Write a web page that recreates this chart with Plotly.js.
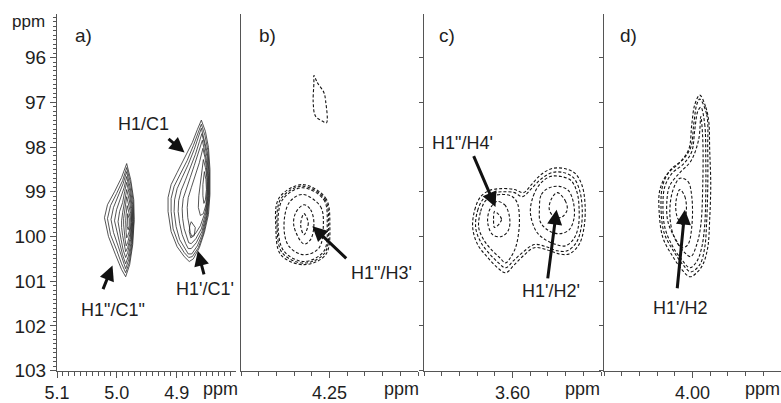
<!DOCTYPE html>
<html>
<head>
<meta charset="utf-8">
<script src="https://cdn.plot.ly/plotly-3.0.1.min.js"></script>
<style>html,body{margin:0;padding:0;background:#fff;}#chart{width:781px;height:403px;}</style>
</head>
<body>
<div id="chart"></div>
<script>
// ---------- axis / tick data ----------
const yTickStart = 96, yTickStep = 1, yMinorStep = 0.1;
const xTickStart = [5.1, 4.25, 3.60, 4.00];   // first labelled tick of each panel
const xTickStep = 0.1;
const xMinorStep = 0.01;
const xTickFormat = ['.1f', '.2f', '.2f', '.2f'];
const panelLetters = ['a)', 'b)', 'c)', 'd)'];

// ---------- contour lines (ppm H, ppm C) ----------
// panel a: solid contours, H1"/C1" (left) and H1/C1 + H1'/C1' (right)
const contoursA = [
  [[4.9836,98.37],[4.9769,98.73],[4.9718,99.18],[4.9710,99.62],[4.9735,100.18],[4.9786,100.63],[4.9853,100.90],[4.9921,100.74],[5.0022,100.41],[5.0140,100.00],[5.0207,99.58],[5.0157,99.29],[5.0039,99.00],[4.9921,98.68]],
  [[4.9836,98.46],[4.9769,98.82],[4.9727,99.22],[4.9718,99.67],[4.9744,100.18],[4.9794,100.59],[4.9853,100.81],[4.9921,100.61],[5.0005,100.30],[5.0106,99.96],[5.0157,99.60],[5.0106,99.31],[5.0005,99.04],[4.9904,98.75]],
  [[4.9836,98.55],[4.9777,98.91],[4.9735,99.29],[4.9727,99.67],[4.9752,100.16],[4.9803,100.52],[4.9853,100.72],[4.9912,100.50],[4.9980,100.21],[5.0056,99.91],[5.0098,99.62],[5.0056,99.35],[4.9971,99.09],[4.9895,98.82]],
  [[4.9836,98.66],[4.9786,98.97],[4.9744,99.33],[4.9735,99.67],[4.9760,100.12],[4.9811,100.45],[4.9853,100.61],[4.9904,100.41],[4.9954,100.14],[5.0005,99.87],[5.0039,99.65],[5.0005,99.40],[4.9938,99.15],[4.9879,98.91]],
  [[4.9836,98.79],[4.9786,99.09],[4.9752,99.38],[4.9744,99.69],[4.9769,100.07],[4.9820,100.36],[4.9853,100.47],[4.9895,100.30],[4.9929,100.07],[4.9963,99.85],[4.9980,99.67],[4.9954,99.44],[4.9904,99.24],[4.9870,99.00]],
  [[4.9836,98.95],[4.9794,99.18],[4.9760,99.44],[4.9752,99.69],[4.9777,100.03],[4.9820,100.25],[4.9853,100.34],[4.9879,100.18],[4.9904,99.98],[4.9921,99.80],[4.9921,99.65],[4.9904,99.47],[4.9879,99.29],[4.9853,99.11]],
  [[4.9836,99.11],[4.9803,99.29],[4.9769,99.49],[4.9760,99.69],[4.9786,99.96],[4.9820,100.14],[4.9845,100.21],[4.9862,100.07],[4.9879,99.89],[4.9887,99.74],[4.9887,99.60],[4.9870,99.44],[4.9853,99.29]],
  [[4.9828,99.31],[4.9803,99.44],[4.9777,99.58],[4.9777,99.74],[4.9794,99.89],[4.9820,100.00],[4.9836,100.03],[4.9845,99.91],[4.9853,99.78],[4.9853,99.65],[4.9845,99.49]],
  [[4.9820,99.49],[4.9794,99.60],[4.9794,99.76],[4.9811,99.85],[4.9828,99.78],[4.9828,99.62]],
  [[4.8589,97.40],[4.8521,97.65],[4.8470,98.01],[4.8445,98.50],[4.8445,99.06],[4.8470,99.51],[4.8538,99.91],[4.8622,100.25],[4.8723,100.50],[4.8791,100.56],[4.8875,100.45],[4.8993,100.23],[4.9094,99.89],[4.9145,99.44],[4.9145,99.13],[4.9094,98.84],[4.8993,98.57],[4.8858,98.23],[4.8740,97.90],[4.8656,97.61]],
  [[4.8589,97.49],[4.8529,97.74],[4.8479,98.08],[4.8454,98.55],[4.8454,99.09],[4.8487,99.53],[4.8555,99.94],[4.8639,100.25],[4.8740,100.45],[4.8800,100.47],[4.8875,100.36],[4.8976,100.14],[4.9061,99.83],[4.9094,99.44],[4.9094,99.15],[4.9044,98.88],[4.8943,98.61],[4.8825,98.30],[4.8723,97.97],[4.8639,97.67]],
  [[4.8589,97.58],[4.8538,97.83],[4.8487,98.14],[4.8462,98.59],[4.8462,99.09],[4.8496,99.53],[4.8572,99.94],[4.8656,100.21],[4.8749,100.39],[4.8808,100.39],[4.8867,100.27],[4.8951,100.07],[4.9010,99.78],[4.9044,99.44],[4.9036,99.18],[4.8993,98.93],[4.8909,98.68],[4.8808,98.39],[4.8707,98.05],[4.8631,97.76]],
  [[4.8580,97.70],[4.8538,97.92],[4.8496,98.21],[4.8470,98.64],[4.8470,99.09],[4.8504,99.51],[4.8580,99.89],[4.8673,100.14],[4.8757,100.27],[4.8808,100.27],[4.8850,100.16],[4.8909,99.96],[4.8951,99.71],[4.8976,99.44],[4.8968,99.20],[4.8926,98.97],[4.8858,98.75],[4.8774,98.48],[4.8690,98.17],[4.8622,97.88]],
  [[4.8572,97.85],[4.8538,98.05],[4.8504,98.30],[4.8479,98.68],[4.8479,99.09],[4.8512,99.47],[4.8589,99.83],[4.8681,100.05],[4.8757,100.16],[4.8800,100.14],[4.8833,100.00],[4.8875,99.83],[4.8901,99.60],[4.8909,99.38],[4.8892,99.15],[4.8841,98.93],[4.8774,98.68],[4.8707,98.41],[4.8639,98.12]],
  [[4.8563,98.03],[4.8529,98.23],[4.8504,98.46],[4.8487,98.77],[4.8487,99.11],[4.8521,99.44],[4.8605,99.76],[4.8690,99.94],[4.8749,100.00],[4.8774,99.91],[4.8791,99.76],[4.8816,99.58],[4.8825,99.35],[4.8808,99.13],[4.8757,98.91],[4.8690,98.64],[4.8622,98.35]],
  [[4.8555,98.28],[4.8521,98.46],[4.8496,98.68],[4.8496,99.00],[4.8512,99.29],[4.8555,99.49],[4.8605,99.53],[4.8639,99.35],[4.8631,99.09],[4.8605,98.79],[4.8580,98.50]],
  [[4.8538,98.55],[4.8512,98.73],[4.8504,98.95],[4.8521,99.18],[4.8546,99.26],[4.8563,99.09],[4.8563,98.84]],
  [[4.8757,99.67],[4.8690,99.80],[4.8707,99.98],[4.8766,100.03],[4.8791,99.89],[4.8782,99.76]]
];
// panel b: dashed contours, H1"/H3'
const contoursB = [
  [[4.2588,96.40],[4.2569,96.56],[4.2532,96.78],[4.2522,96.97],[4.2517,97.46],[4.2541,97.42],[4.2579,97.31],[4.2592,97.01],[4.2588,96.56]],
  [[4.2644,99.49],[4.2620,99.70],[4.2644,99.96],[4.2663,99.74]],
  [[4.2644,99.29],[4.2607,99.40],[4.2588,99.70],[4.2607,100.07],[4.2644,100.17],[4.2701,99.77],[4.2691,99.47]],
  [[4.2653,99.06],[4.2551,99.33],[4.2535,99.77],[4.2560,100.26],[4.2644,100.41],[4.2729,100.22],[4.2757,99.81],[4.2729,99.25]],
  [[4.2653,98.91],[4.2532,99.18],[4.2513,99.74],[4.2532,100.33],[4.2644,100.56],[4.2757,100.33],[4.2790,99.81],[4.2766,99.18]],
  [[4.2653,98.875],[4.2527,99.16],[4.2505,99.74],[4.2527,100.37],[4.2644,100.595],[4.2766,100.37],[4.2796,99.81],[4.2775,99.16]],
  [[4.2653,98.84],[4.2522,99.14],[4.2498,99.74],[4.2522,100.41],[4.2644,100.63],[4.2775,100.41],[4.2803,99.81],[4.2785,99.14]]
];
// panel c: dashed contours, H1"/H4' (left) and H1'/H2' (right)
const contoursC = [
  [[3.6101,99.44],[3.6062,99.62],[3.6101,99.80],[3.6107,99.62]],
  [[3.6090,99.22],[3.6045,99.29],[3.6017,99.56],[3.6022,99.85],[3.6062,100.00],[3.6112,99.96],[3.6140,99.69],[3.6129,99.40]],
  [[3.6191,99.80],[3.6180,99.44],[3.6152,99.20],[3.6107,99.09],[3.6051,99.06],[3.6000,99.11],[3.5972,99.26],[3.5961,99.58],[3.5966,99.94],[3.5983,100.25],[3.6011,100.47],[3.6039,100.59],[3.6073,100.47],[3.6118,100.30],[3.6163,100.07]],
  [[3.6208,99.80],[3.6197,99.42],[3.6163,99.15],[3.6118,99.04],[3.6056,99.00],[3.5989,99.02],[3.5944,99.11],[3.5893,98.93],[3.5837,98.71],[3.5775,98.57],[3.5713,98.57],[3.5657,98.68],[3.5624,98.93],[3.5607,99.31],[3.5612,99.80],[3.5640,100.14],[3.5691,100.32],[3.5747,100.32],[3.5809,100.23],[3.5876,100.18],[3.5938,100.34],[3.5994,100.54],[3.6039,100.70],[3.6079,100.59],[3.6129,100.39],[3.6180,100.12]],
  [[3.6225,99.80],[3.6213,99.40],[3.6180,99.11],[3.6129,98.97],[3.6062,98.93],[3.5989,98.95],[3.5938,99.02],[3.5893,98.84],[3.5837,98.61],[3.5775,98.48],[3.5708,98.48],[3.5646,98.59],[3.5607,98.86],[3.5590,99.29],[3.5596,99.80],[3.5624,100.18],[3.5680,100.39],[3.5736,100.39],[3.5803,100.30],[3.5876,100.25],[3.5933,100.41],[3.5989,100.63],[3.6039,100.81],[3.6084,100.70],[3.6140,100.47],[3.6197,100.18]],
  [[3.5899,99.47],[3.5882,99.09],[3.5843,98.82],[3.5787,98.66],[3.5725,98.66],[3.5669,98.75],[3.5635,99.02],[3.5624,99.35],[3.5629,99.80],[3.5657,100.07],[3.5702,100.21],[3.5753,100.18],[3.5815,100.07],[3.5865,99.89]],
  [[3.5848,99.40],[3.5837,99.06],[3.5792,98.91],[3.5736,98.88],[3.5685,98.97],[3.5657,99.22],[3.5652,99.58],[3.5680,99.85],[3.5736,99.94],[3.5803,99.85],[3.5843,99.67]],
  [[3.5747,99.02],[3.5702,99.20],[3.5691,99.40],[3.5719,99.56],[3.5758,99.58],[3.5792,99.40],[3.5781,99.17]]
];
// panel d: dashed contours, H1'/H2
const contoursD = [
  [[4.0071,98.95],[4.0043,99.11],[4.0035,99.44],[4.0054,99.74],[4.0085,99.58],[4.0094,99.24]],
  [[4.0071,98.70],[4.0026,98.77],[4.0004,99.11],[4.0004,99.78],[4.0026,100.18],[4.0060,100.25],[4.0105,100.00],[4.0128,99.49],[4.0111,98.97]],
  [[3.9953,97.32],[3.9942,97.83],[3.9942,98.84],[3.9953,99.74],[3.9976,100.18],[4.0010,100.45],[4.0049,100.34],[4.0094,100.07],[4.0139,99.67],[4.0144,99.17],[4.0128,98.86],[4.0071,98.57],[4.0010,98.32],[3.9965,97.83]],
  [[3.9953,97.11],[3.9931,97.49],[3.9925,98.28],[3.9925,99.06],[3.9931,99.74],[3.9948,100.25],[3.9976,100.56],[4.0015,100.70],[4.0060,100.52],[4.0111,100.23],[4.0156,99.80],[4.0167,99.29],[4.0156,98.88],[4.0116,98.59],[4.0049,98.37],[4.0004,98.10],[3.9987,97.61],[3.9970,97.20]],
  [[3.9959,96.93],[3.9920,97.27],[3.9914,98.05],[3.9914,98.95],[3.9920,99.67],[3.9931,100.25],[3.9959,100.63],[4.0010,100.79],[4.0054,100.63],[4.0105,100.34],[4.0161,99.91],[4.0178,99.29],[4.0167,98.84],[4.0122,98.50],[4.0054,98.28],[4.0010,98.01],[3.9993,97.49],[3.9976,97.05]],
  [[3.9959,96.84],[3.9925,97.11],[3.9908,97.43],[3.9903,98.05],[3.9897,98.84],[3.9903,99.62],[3.9914,100.25],[3.9942,100.63],[3.9976,100.81],[4.0015,100.90],[4.0060,100.74],[4.0111,100.45],[4.0167,100.03],[4.0189,99.40],[4.0184,98.95],[4.0144,98.61],[4.0071,98.34],[4.0021,98.05],[4.0004,97.49],[3.9987,97.05]]
];

// ---------- peak labels and arrows ----------
const noteText  = ['H1/C1', "H1'/C1'", 'H1"/C1"', "H1\"/H3'", "H1\"/H4'", "H1'/H2'", "H1'/H2"];
const notePanel = [1, 1, 1, 2, 3, 3, 4];
const noteX     = [4.9550, 4.8521, 5.0073, 4.2208, 3.6281, 3.5781, 4.0071];
const noteY     = [97.49, 101.17, 101.64, 100.81, 97.90, 101.21, 101.59];
const tipX      = [4.8870, 4.8648, 5.0073, 4.2597, 3.6096, 3.5751, 4.0043];
const tipY      = [98.12, 100.32, 100.65, 99.77, 99.34, 99.40, 99.40];
const tailX     = [4.9162, 4.8538, 5.0241, 4.2397, 3.6223, 3.5802, 4.0087];
const tailY     = [97.79, 100.88, 101.21, 100.52, 98.17, 100.97, 101.19];

// ---------- build ----------
const FONT = 'Liberation Sans, Arial, Helvetica, sans-serif';
const TXT = '#1e1e1e';
const AX = '#555';
const W = 781, H = 403;

function closed(pts, k) {
  const v = pts.map(p => p[k]);
  v.push(pts[0][k]);
  return v;
}
const traces = [];
function addContours(list, idx, dashed) {
  const sfx = idx === 1 ? '' : String(idx);
  list.forEach(c => {
    traces.push({
      type: 'scatter', mode: 'lines',
      x: closed(c, 0), y: closed(c, 1),
      xaxis: 'x' + sfx, yaxis: 'y' + sfx,
      line: dashed ? {color: '#151515', width: 1.1, dash: '3px,2px', shape: 'spline', smoothing: 1.0}
                   : {color: '#2a2a2a', width: 0.8},
      hoverinfo: 'skip', showlegend: false
    });
  });
}
addContours(contoursA, 1, false);
addContours(contoursB, 2, true);
addContours(contoursC, 3, true);
addContours(contoursD, 4, true);

const yDom = [1 - 370.7 / H, 1 - 13.7 / H];
const yRange = [103, 95.02];
const xDoms = [[57 / W, 236 / W], [241 / W, 418 / W], [424 / W, 601 / W], [604 / W, 1]];
const xRanges = [[5.1, 4.801], [4.30, 4.20], [3.65, 3.55], [4.05, 3.95]];

const layout = {
  width: W, height: H,
  margin: {l: 0, r: 0, t: 0, b: 0},
  paper_bgcolor: '#fff', plot_bgcolor: 'rgba(0,0,0,0)',
  showlegend: false,
  font: {family: FONT, color: TXT},
  annotations: [], shapes: []
};
for (let i = 0; i < 4; i++) {
  const sfx = i === 0 ? '' : String(i + 1);
  layout['xaxis' + sfx] = {
    domain: xDoms[i], range: xRanges[i], anchor: 'y' + sfx,
    showline: true, linecolor: AX, linewidth: 1, mirror: false,
    ticks: 'outside', ticklen: 6, tickwidth: 1, tickcolor: AX,
    tickmode: 'linear', tick0: xTickStart[i], dtick: xTickStep, tickformat: xTickFormat[i],
    tickfont: {size: 18, color: TXT, family: FONT},
    minor: {ticks: 'outside', ticklen: 4, tickcolor: AX, tickwidth: 1,
            tick0: xTickStart[i], dtick: xMinorStep, showgrid: false},
    showgrid: false, zeroline: false, fixedrange: true
  };
  layout['yaxis' + sfx] = {
    domain: yDom, range: yRange, anchor: 'x' + sfx,
    showline: true, linecolor: AX, linewidth: 1,
    ticks: i === 1 ? '' : 'outside', ticklen: i === 0 ? 6 : 4, tickcolor: AX, tickwidth: 1,
    tickmode: 'linear', tick0: yTickStart, dtick: yTickStep,
    showticklabels: i === 0,
    tickfont: {size: 19, color: TXT, family: FONT},
    showgrid: false, zeroline: false, fixedrange: true
  };
}
layout.yaxis.minor = {ticks: 'outside', ticklen: 3, tickcolor: AX, tickwidth: 1,
  tick0: yTickStart, dtick: yMinorStep, showgrid: false};

// panel letters
const letterX = [73, 257, 437, 618];
panelLetters.forEach((t, i) => {
  layout.annotations.push({xref: 'paper', yref: 'paper', x: letterX[i] / W, y: 1 - 35 / H,
    xanchor: 'left', yanchor: 'middle', text: t, showarrow: false,
    font: {size: 19, color: TXT, family: FONT}});
});
// ppm unit labels
layout.annotations.push({xref: 'paper', yref: 'paper', x: 28 / W, y: 1 - 21 / H, xanchor: 'center', yanchor: 'middle',
  text: 'ppm', showarrow: false, font: {size: 17, color: TXT, family: FONT}});
[220, 401, 582, 762].forEach(px => {
  layout.annotations.push({xref: 'paper', yref: 'paper', x: px / W, y: 1 - 389 / H, xanchor: 'center', yanchor: 'middle',
    text: 'ppm', showarrow: false, font: {size: 18, color: TXT, family: FONT}});
});
// peak labels + arrows
noteText.forEach((t, i) => {
  const sfx = notePanel[i] === 1 ? '' : String(notePanel[i]);
  layout.annotations.push({xref: 'x' + sfx, yref: 'y' + sfx, x: noteX[i], y: noteY[i],
    xanchor: 'center', yanchor: 'middle', text: t, showarrow: false,
    font: {size: 18, color: TXT, family: FONT}});
  layout.annotations.push({xref: 'x' + sfx, yref: 'y' + sfx, axref: 'x' + sfx, ayref: 'y' + sfx,
    x: tipX[i], y: tipY[i], ax: tailX[i], ay: tailY[i], text: '', showarrow: true,
    arrowhead: 2, arrowsize: 1, arrowwidth: 3, arrowcolor: '#111', standoff: 0, startstandoff: 0});
});

Plotly.newPlot('chart', traces, layout, {staticPlot: true, displayModeBar: false});
</script>
</body>
</html>
